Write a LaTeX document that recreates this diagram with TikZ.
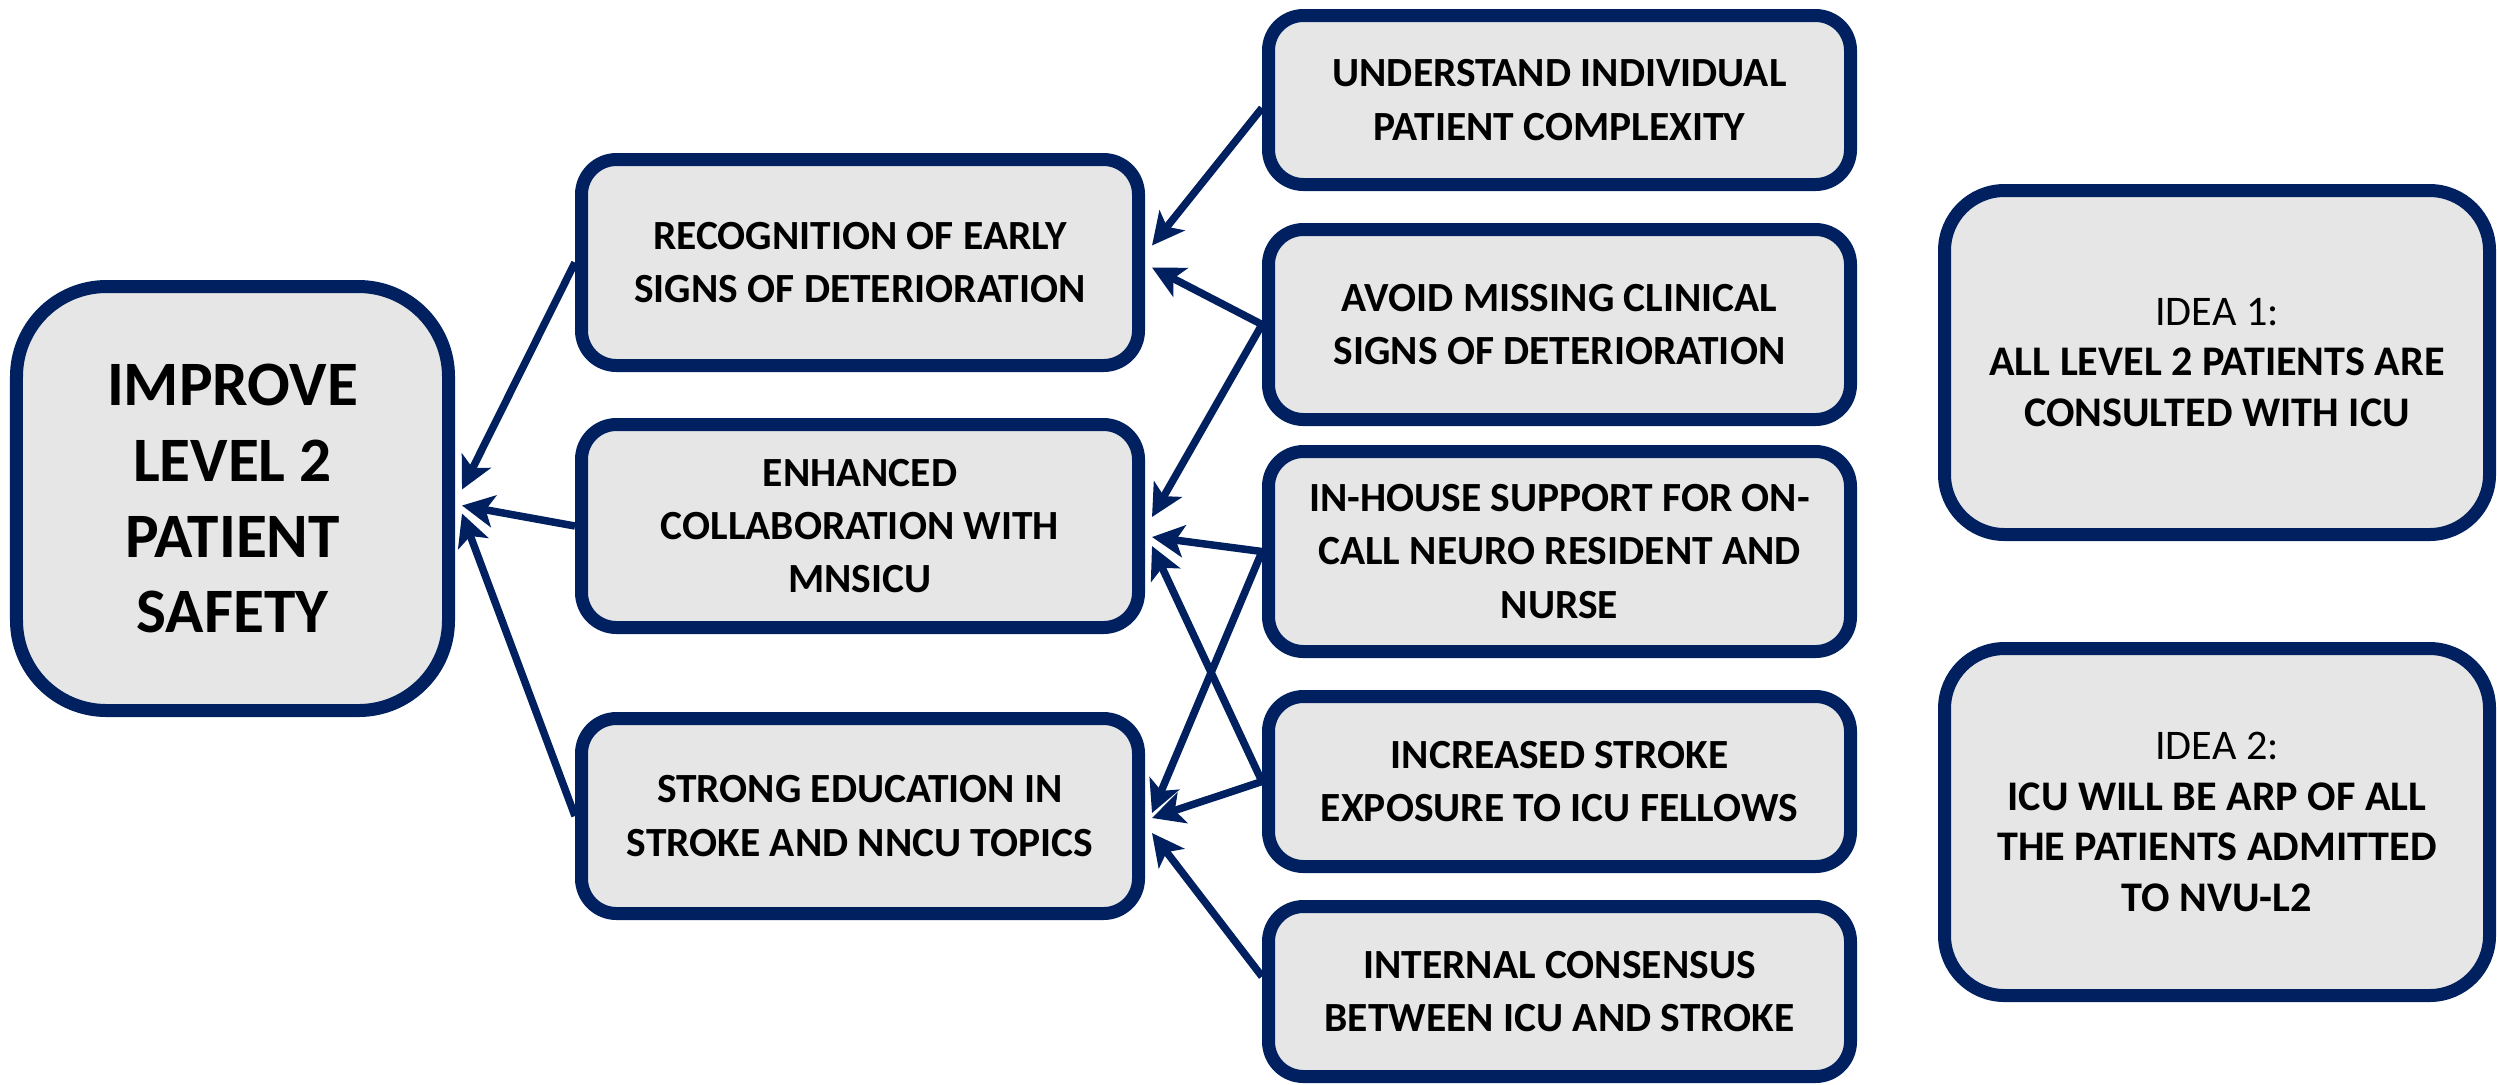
\documentclass[tikz,border=0pt]{standalone}
\usepackage{fontspec}
\setmainfont{Carlito}
\usepackage{tikz}
\usetikzlibrary{positioning}
\usetikzlibrary{arrows.meta}
\definecolor{navy}{HTML}{002060}
\definecolor{boxgray}{HTML}{E6E6E6}

\begin{document}
\begin{tikzpicture}
		[box/.style={rectangle, draw=navy, fill=boxgray, line width=0.13cm, rounded corners=0.35cm, align=center, inner sep=0pt, font=\bfseries\fontsize{11.8}{15.2}\selectfont},
		 arr/.style={draw=navy, line width=0.075cm, -{Stealth[length=0.32cm, width=0.32cm, inset=0.08cm]}}]
		\useasboundingbox (0,0) rectangle (24.97,-10.84);

		\node[box, minimum width=4.32cm, minimum height=4.24cm, rounded corners=0.9cm, font=\bfseries\fontsize{18}{21.6}\selectfont] (goal) at (2.325,-4.985) {IMPROVE\\LEVEL 2\\PATIENT\\SAFETY};

		\node[box, minimum width=5.57cm, minimum height=2.06cm] (rec) at (8.6,-2.625) {RECOGNITION OF EARLY\\SIGNS OF DETERIORATION};
		\node[box, minimum width=5.57cm, minimum height=2.03cm] (enh) at (8.6,-5.26) {ENHANCED\\COLLABORATION WITH\\MNSICU};
		\node[box, minimum width=5.57cm, minimum height=1.95cm] (edu) at (8.6,-8.16) {STRONG EDUCATION IN\\STROKE AND NNCU TOPICS};

		\node[box, minimum width=5.82cm, minimum height=1.69cm] (und) at (15.595,-1.00) {UNDERSTAND INDIVIDUAL\\PATIENT COMPLEXITY};
		\node[box, minimum width=5.82cm, minimum height=1.90cm] (avo) at (15.595,-3.245) {AVOID MISSING CLINICAL\\SIGNS OF DETERIORATION};
		\node[box, minimum width=5.82cm, minimum height=2.00cm] (inh) at (15.595,-5.515) {IN-HOUSE SUPPORT FOR ON-\\CALL NEURO RESIDENT AND\\NURSE};
		\node[box, minimum width=5.82cm, minimum height=1.70cm] (inc) at (15.595,-7.815) {INCREASED STROKE\\EXPOSURE TO ICU FELLOWS};
		\node[box, minimum width=5.82cm, minimum height=1.70cm] (int) at (15.595,-9.915) {INTERNAL CONSENSUS\\BETWEEN ICU AND STROKE};

		\node[box, minimum width=5.45cm, minimum height=3.44cm, rounded corners=0.6cm, font=\bfseries\fontsize{12}{14.4}\selectfont] (idea1) at (22.17,-3.625) {{\mdseries IDEA 1:}\\ALL LEVEL 2 PATIENTS ARE\\CONSULTED WITH ICU};
		\node[box, minimum width=5.45cm, minimum height=3.47cm, rounded corners=0.6cm, font=\bfseries\fontsize{12}{14.4}\selectfont] (idea2) at (22.17,-8.22) {{\mdseries IDEA 2:}\\ICU WILL BE ARP OF ALL\\THE PATIENTS ADMITTED\\TO NVU-L2};

		\draw[arr] (rec.west) to ([xshift=0.07cm, yshift=0.09cm]goal.east);
		\draw[arr] (enh.west) to ([xshift=0.07cm, yshift=-0.07cm]goal.east);
		\draw[arr] (edu.west) to ([xshift=0.07cm, yshift=-0.15cm]goal.east);

		\draw[arr] ([yshift=-0.08cm]und.west) to ([xshift=0.07cm, yshift=0.17cm]rec.east);
		\draw[arr] (avo.west) to ([xshift=0.07cm, yshift=-0.05cm]rec.east);
		\draw[arr] (avo.west) to ([xshift=0.07cm, yshift=0.09cm]enh.east);
		\draw[arr] (inh.west) to ([xshift=0.07cm, yshift=-0.11cm]enh.east);
		\draw[arr] (inc.west) to ([xshift=0.07cm, yshift=-0.2cm]enh.east);
		\draw[arr] (inh.west) to ([xshift=0.07cm, yshift=0.03cm]edu.east);
		\draw[arr] (inc.west) to ([xshift=0.07cm, yshift=-0.02cm]edu.east);
		\draw[arr] ([yshift=0.15cm]int.west) to ([xshift=0.07cm, yshift=-0.17cm]edu.east);
	\end{tikzpicture}
\end{document}
